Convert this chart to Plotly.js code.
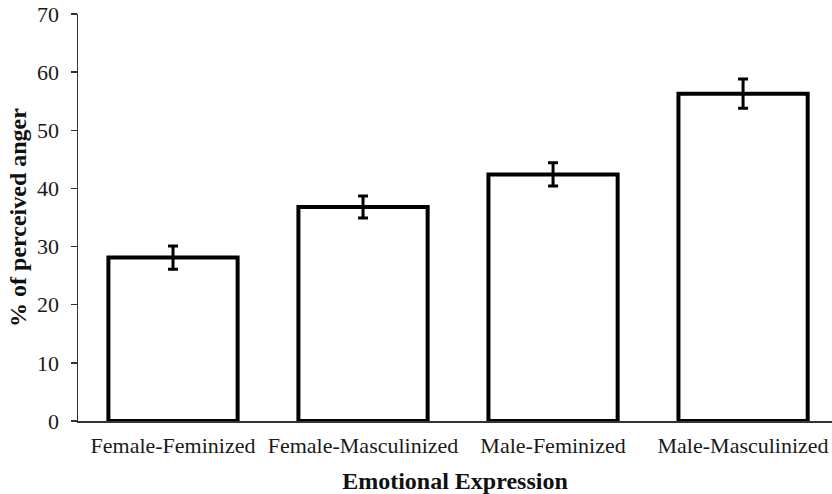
<!DOCTYPE html>
<html>
<head>
<meta charset="utf-8">
<script src="https://cdn.plot.ly/plotly-3.0.1.min.js"></script>
<style>html,body{margin:0;padding:0;background:#fff;}#chart{width:832px;height:494px;}</style>
</head>
<body>
<div id="chart"></div>
<script>
const categories = ["Female-Feminized", "Female-Masculinized", "Male-Feminized", "Male-Masculinized"];
const values = [28.1, 36.8, 42.4, 56.3];
const errors = [2.0, 1.9, 2.0, 2.5];
const yTicks = [0, 10, 20, 30, 40, 50, 60, 70];

const trace = {
  type: "bar",
  x: categories,
  y: values,
  width: 0.68,
  marker: {color: "#ffffff", line: {color: "#000000", width: 4}},
  error_y: {type: "data", array: errors, visible: true, color: "#000000", thickness: 3, width: 5},
  hoverinfo: "none"
};

const layout = {
  width: 832, height: 494,
  margin: {l: 78, r: 0, t: 14, b: 73},
  paper_bgcolor: "#fff", plot_bgcolor: "#fff",
  font: {family: "Liberation Serif, Times New Roman, serif", color: "#111", size: 22},
  showlegend: false,
  xaxis: {
    type: "category",
    range: [-0.5, 3.468],
    showline: true, linecolor: "#333", linewidth: 1.5,
    ticks: "", showgrid: false, zeroline: false,
    ticklabelstandoff: 4,
    tickfont: {size: 22, color: "#1a1a1a"},
    title: {text: "<b>Emotional Expression</b>", font: {size: 24, color: "#111"}, standoff: 15}
  },
  yaxis: {
    range: [0, 70],
    tickvals: yTicks,
    showline: true, linecolor: "#333", linewidth: 1.5,
    ticks: "outside", ticklen: 6, tickwidth: 1.5, tickcolor: "#333",
    showgrid: false, zeroline: false,
    ticklabelstandoff: 7,
    tickfont: {size: 22, color: "#1a1a1a"},
    title: {text: "<b>% of perceived anger</b>", font: {size: 24, color: "#111"}, standoff: 3}
  }
};

Plotly.newPlot("chart", [trace], layout, {displayModeBar: false, staticPlot: true});
</script>
</body>
</html>
